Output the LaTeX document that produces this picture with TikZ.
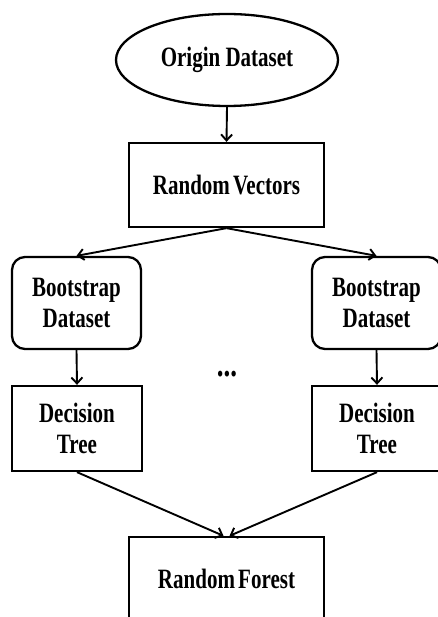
\documentclass[tikz,border=0pt]{standalone}
\usepackage{fontspec}
\setmainfont{Liberation Serif}[FakeStretch=0.75]
\usetikzlibrary{shapes.geometric,arrows.meta}
\begin{document}
\begin{tikzpicture}[x=1pt,y=-1pt,
  every node/.style={font=\fontsize{28}{31}\selectfont\bfseries, align=center, inner sep=0pt},
  box/.style={draw, line width=2.3pt, rectangle},
  rbox/.style={draw, line width=2.3pt, rectangle, rounded corners=13pt},
  oval/.style={draw, line width=2.3pt, ellipse},
  arr/.style={line width=1.9pt, -{Straight Barb[length=6pt,width=11pt,line width=1.9pt]}}]
\useasboundingbox (0,0) rectangle (438,617);
\clip (0,0) rectangle (438,617);
\node[oval, minimum width=222pt, minimum height=92pt] (ell) at (227,60) {Origin Dataset};
\node[box, minimum width=195pt, minimum height=84pt] (rv) at (226.5,185) {Random\hspace{-2pt} Vectors};
\node[rbox, minimum width=129pt, minimum height=92pt] (bl) at (76.5,303) {Bootstrap\\Dataset};
\node[rbox, minimum width=129pt, minimum height=92pt] (br) at (376.5,303) {Bootstrap\\Dataset};
\node[box, minimum width=130pt, minimum height=85pt] (dl) at (77,428.5) {Decision\\Tree};
\node[box, minimum width=130pt, minimum height=85pt] (dr) at (377,428.5) {Decision\\Tree};
\node[box, minimum width=195pt, minimum height=84pt] (rf) at (226.5,579) {Random\hspace{-2pt} Forest};
\node[font=\fontsize{36}{36}\selectfont\bfseries, anchor=base] (dots) at (227,376) {...};
\coordinate (rfl) at ([xshift=-3pt]rf.north);
\coordinate (rfr) at ([xshift=3pt]rf.north);
\draw[arr] (ell.south) -- (rv.north);
\draw[arr] (rv.south) -- (bl.north);
\draw[arr] (rv.south) -- (br.north);
\draw[arr] (bl.south) -- (dl.north);
\draw[arr] (br.south) -- (dr.north);
\draw[arr] (dl.south) -- (rfl);
\draw[arr] (dr.south) -- (rfr);
\end{tikzpicture}
\end{document}
